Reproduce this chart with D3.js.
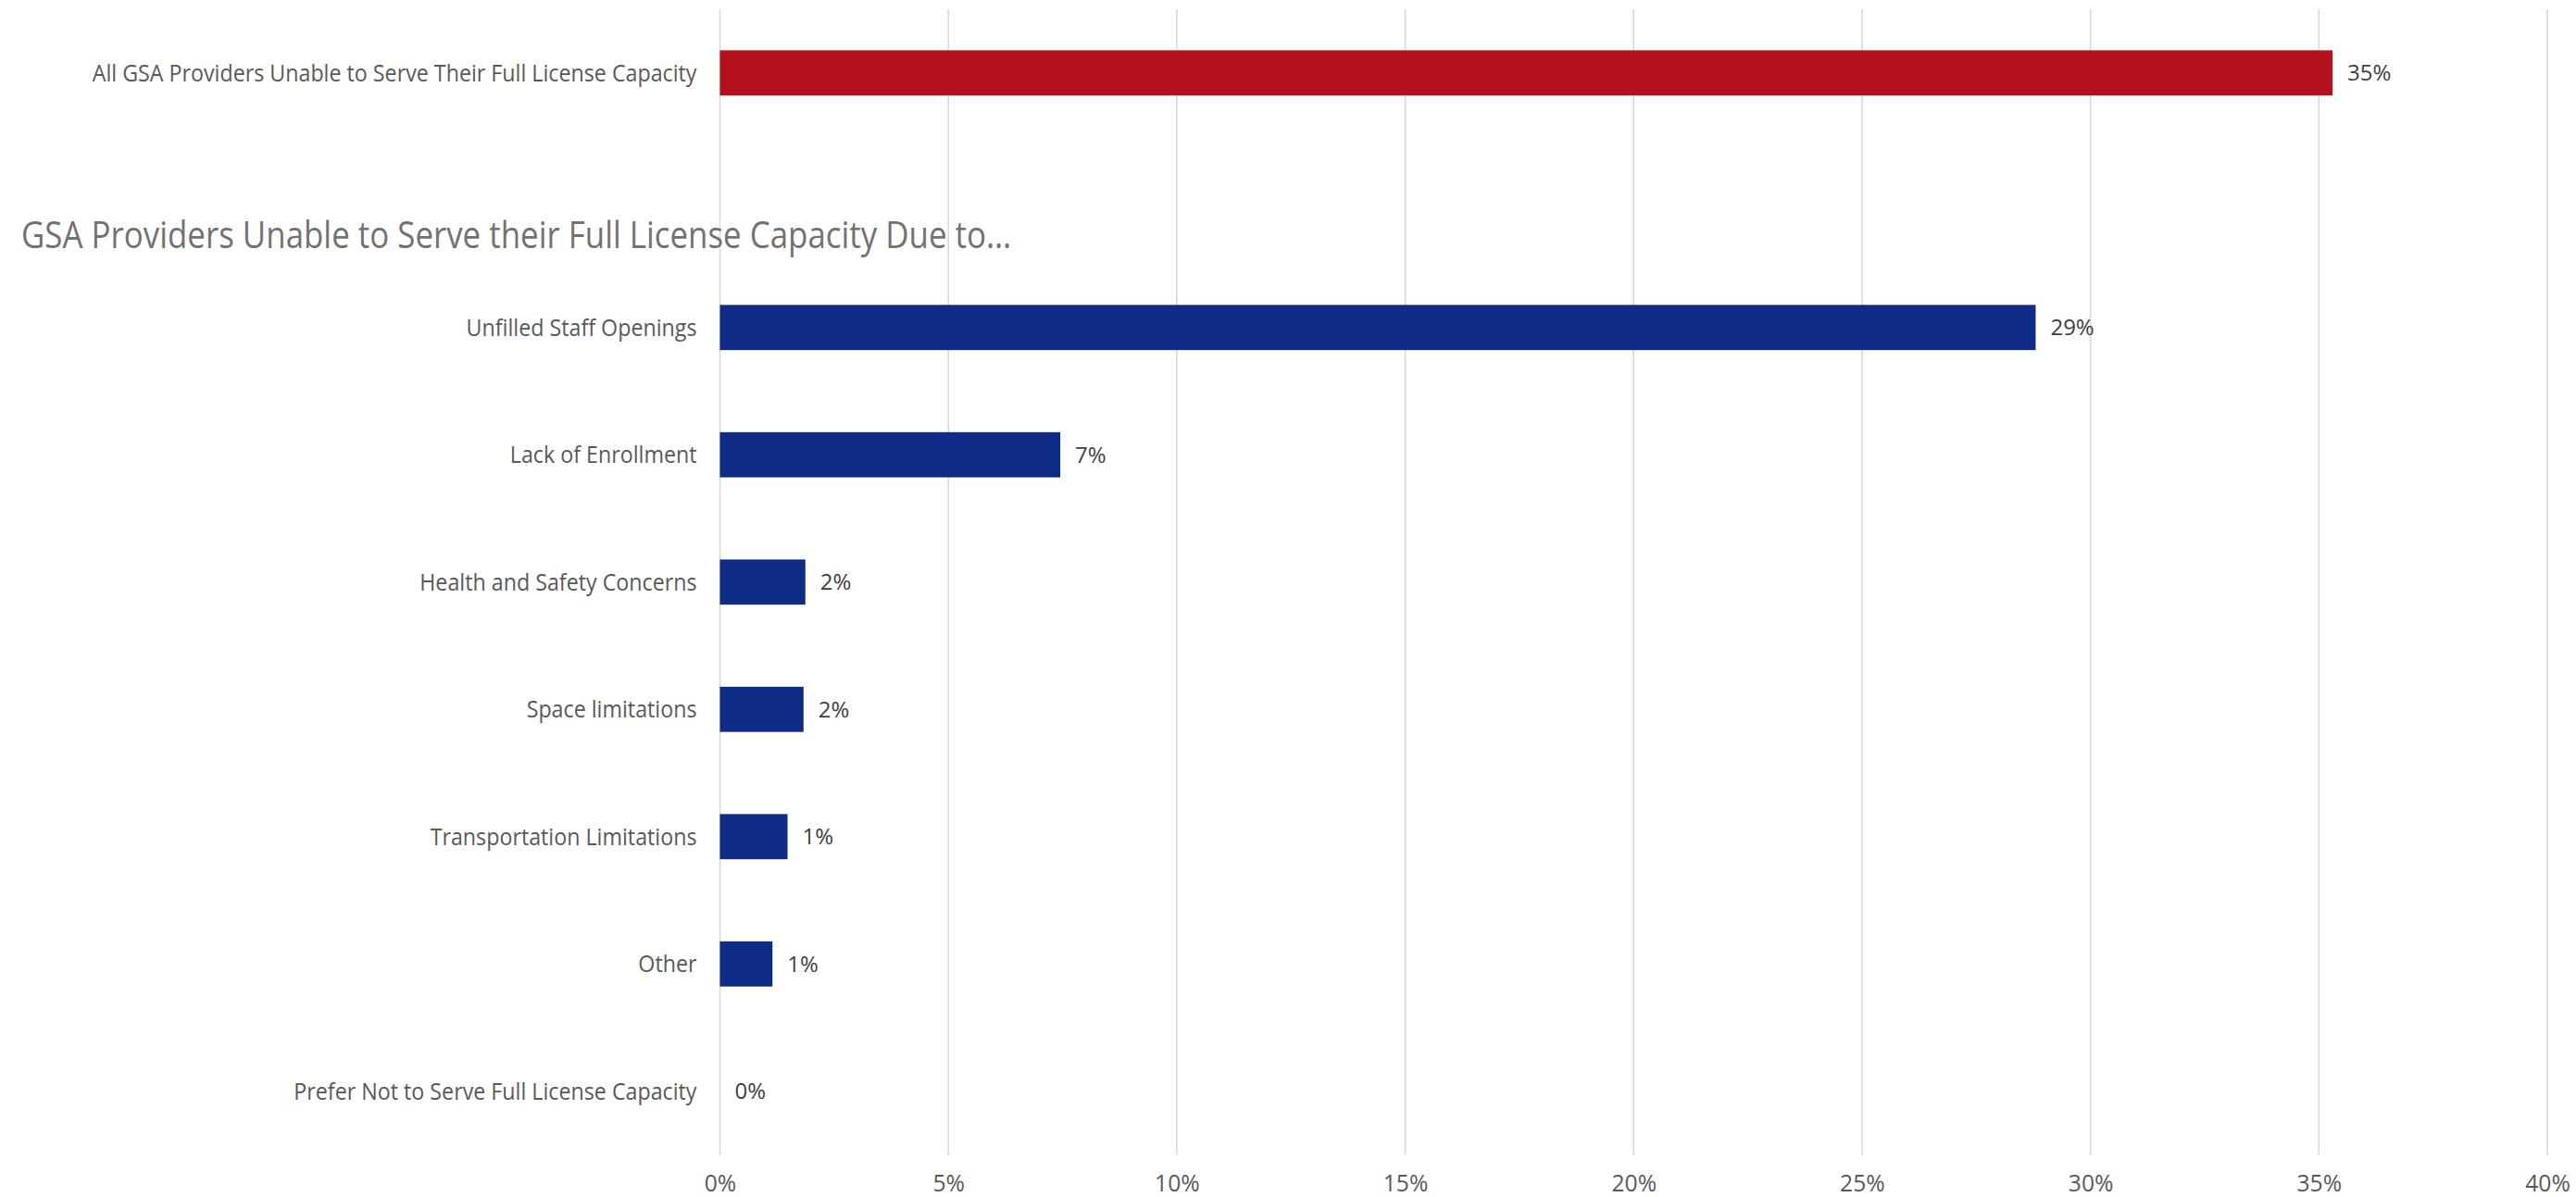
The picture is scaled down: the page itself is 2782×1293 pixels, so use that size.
<!DOCTYPE html>
<html>
<head>
<meta charset="utf-8">
<script src="https://cdn.jsdelivr.net/npm/d3@7"></script>
<style>
  html, body { margin: 0; padding: 0; background: #ffffff; }
  svg { display: block; }
</style>
</head>
<body>
<svg id="chart" width="2782" height="1293"></svg>
<script>
// Rows from top to bottom; the empty row leaves room for the section heading.
const categories = [
  "All GSA Providers Unable to Serve Their Full License Capacity",
  "",
  "Unfilled Staff Openings",
  "Lack of Enrollment",
  "Health and Safety Concerns",
  "Space limitations",
  "Transportation Limitations",
  "Other",
  "Prefer Not to Serve Full License Capacity"
];
// Share of providers (fraction); null for the spacer row.
const values = [0.353, null, 0.288, 0.0745, 0.0187, 0.0183, 0.0148, 0.0115, 0];
// Row kind: total (red) or reason (blue).
const rowKinds = ["total", null, "reason", "reason", "reason", "reason", "reason", "reason", "reason"];
const xTicks = [0, 0.05, 0.10, 0.15, 0.20, 0.25, 0.30, 0.35, 0.40];
const sectionHeading = "GSA Providers Unable to Serve their Full License Capacity Due to…";

const rows = categories.map((c, i) => ({ key: c || "__spacer__", label: c, value: values[i], kind: rowKinds[i] }));

const svg = d3.select("#chart");
const margin = { left: 777.5, right: 2751, top: 10, bottom: 1247.5 };

const x = d3.scaleLinear().domain([0, 0.40]).range([margin.left, margin.right]);
const y = d3.scaleBand()
  .domain(rows.map(d => d.key))
  .range([margin.top, margin.bottom])
  .paddingInner(0.645)
  .paddingOuter(0.3225);

const colors = { total: "#b3111b", reason: "#0e2c85" };
const fmt = d3.format(".0%");
const labelFont = "'Open Sans', 'Noto Sans', sans-serif";

// Vertical gridlines
svg.append("g")
  .selectAll("line")
  .data(xTicks)
  .join("line")
  .attr("x1", d => x(d)).attr("x2", d => x(d))
  .attr("y1", margin.top).attr("y2", margin.bottom)
  .attr("stroke", "#d9d9d9")
  .attr("stroke-width", 1.6);

// Bottom axis: tick labels only
const xAxis = d3.axisBottom(x).tickValues(xTicks).tickFormat(fmt).tickSize(0).tickPadding(0);
const axisG = svg.append("g")
  .attr("transform", `translate(0, ${margin.bottom})`)
  .call(xAxis);
axisG.select(".domain").remove();
axisG.selectAll(".tick text")
  .attr("x", 0)
  .attr("y", 0)
  .attr("dy", "0.35em")
  .attr("transform", "translate(0,30) scale(0.95,1)")
  .attr("fill", "#595959")
  .style("font-family", labelFont)
  .style("font-size", "26px");

// Bars
const barRows = rows.filter(d => d.value !== null);
svg.append("g")
  .selectAll("rect")
  .data(barRows)
  .join("rect")
  .attr("x", x(0))
  .attr("y", d => y(d.key))
  .attr("width", d => x(d.value) - x(0))
  .attr("height", y.bandwidth())
  .attr("fill", d => colors[d.kind]);

// Value labels at bar ends
svg.append("g")
  .selectAll("text")
  .data(barRows)
  .join("text")
  .attr("x", d => x(d.value) + 16)
  .attr("y", d => y(d.key) + y.bandwidth() / 2)
  .attr("dy", "0.35em")
  .attr("fill", "#404040")
  .style("font-family", labelFont)
  .style("font-size", "24px")
  .text(d => fmt(d.value));

// Category labels, right-aligned left of the axis
svg.append("g")
  .selectAll("text")
  .data(barRows)
  .join("text")
  .attr("transform", d => `translate(${x(0) - 25}, ${y(d.key) + y.bandwidth() / 2}) scale(0.93,1)`)
  .attr("text-anchor", "end")
  .attr("dy", "0.35em")
  .attr("fill", "#595959")
  .style("font-family", labelFont)
  .style("font-size", "25px")
  .text(d => d.label);

// Section heading above the reason rows
svg.append("text")
  .attr("transform", "translate(23, 254) scale(0.872,1)")
  .attr("dy", "0.35em")
  .attr("fill", "#767171")
  .style("font-family", labelFont)
  .style("font-size", "40px")
  .text(sectionHeading);
</script>
</body>
</html>
